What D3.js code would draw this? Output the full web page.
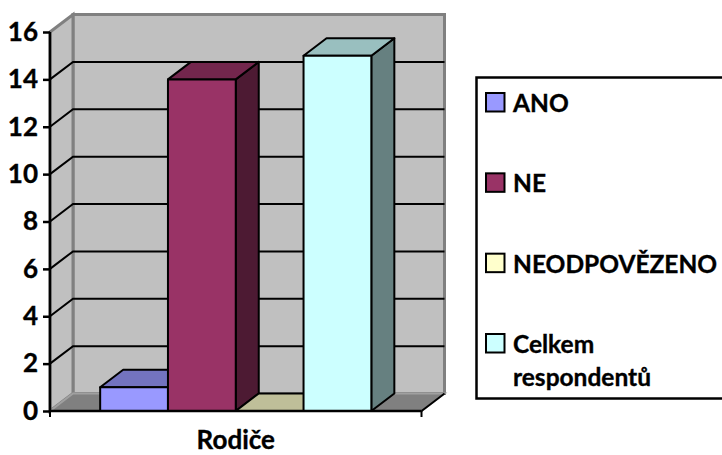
<!DOCTYPE html>
<html>
<head>
<meta charset="utf-8">
<script src="https://cdn.jsdelivr.net/npm/d3@7"></script>
<style>
  html, body { margin: 0; padding: 0; background: white; overflow: hidden; }
  text { font-family: Lato, "Noto Sans", sans-serif; font-weight: bold; fill: #000; stroke: #000; stroke-width: 0.35px; }
</style>
</head>
<body>
<script>
// values
var categories = ["Rodiče"];
var seriesNames = ["ANO", "NE", "NEODPOVĚZENO", "Celkem respondentů"];
var seriesValues = [1, 14, 0, 15];
var seriesColors = ["#9999FF", "#993366", "#FFFFCC", "#CCFFFF"];
var yTicks = [0, 2, 4, 6, 8, 10, 12, 14, 16];
var legendLines = [["ANO"], ["NE"], ["NEODPOVĚZENO"], ["Celkem", "respondentů"]];

var width = 722, height = 455;

// the fake 3d depth of the chart
var depthX = 23, depthY = -17.5;

var svg = d3.select("body").append("svg")
    .attr("width", width)
    .attr("height", height)
    .style("display", "block")
    .style("background-color", "white");

var y = d3.scaleLinear().domain([0, 16]).range([411, 32]);
var x = d3.scaleBand().domain(categories).range([50, 421.5]);
var xSeries = d3.scaleBand().domain(seriesNames)
    .range([x(categories[0]), x(categories[0]) + x.bandwidth()])
    .paddingOuter(0.74).paddingInner(0);

var line = d3.line();
var back = function(p) { return [p[0] + depthX, p[1] + depthY]; };

var x0 = x.range()[0], x1 = x.range()[1], yBottom = y(0), yTop = y(16);

// walls and floor
var walls = svg.append("g").attr("class", "walls");
walls.append("path")
    .attr("d", line([back([x0, yTop]), back([x1, yTop]), back([x1, yBottom]), back([x0, yBottom])]) + "Z")
    .attr("fill", "#C0C0C0").attr("stroke", "#808080").attr("stroke-width", 3);
walls.append("path")
    .attr("d", line([[x0, yTop], back([x0, yTop]), back([x0, yBottom]), [x0, yBottom]]) + "Z")
    .attr("fill", "#C0C0C0").attr("stroke", "#808080").attr("stroke-width", 3);
walls.append("path")
    .attr("d", line([[x0, yBottom], back([x0, yBottom]), back([x1, yBottom]), [x1, yBottom]]) + "Z")
    .attr("fill", "#808080").attr("stroke", "#A0A0A0").attr("stroke-width", 2);

// gridlines run along the side wall and then the back wall
svg.append("g").attr("class", "grid")
    .selectAll("path")
    .data(yTicks.filter(function(d) { return d > 0 && d < 16; }))
    .enter().append("path")
    .attr("d", function(d) {
        return line([[x0, y(d)], back([x0, y(d)]), back([x1, y(d)])]);
    })
    .attr("fill", "none").attr("stroke", "#000").attr("stroke-width", 2);

// black right edge of the floor
svg.append("path")
    .attr("d", line([[x1, yBottom], back([x1, yBottom])]))
    .attr("stroke", "#000").attr("stroke-width", 2);

// each bar is a front, a top and a side face
var bars = svg.append("g").attr("class", "bars")
    .selectAll("g")
    .data(seriesNames.map(function(name, i) {
        return { name: name, value: seriesValues[i], color: seriesColors[i] };
    }))
    .enter().append("g");

function barFace(sel, points, shade) {
    sel.append("path")
        .attr("d", function(d) { return line(points(d)) + "Z"; })
        .attr("fill", function(d) { return shade(d.color); })
        .attr("stroke", "#000").attr("stroke-width", 2)
        .attr("stroke-linejoin", "round");
}
function darken(k) {
    return function(c) {
        var rgb = d3.rgb(c);
        return d3.rgb(rgb.r * k, rgb.g * k, rgb.b * k).formatHex();
    };
}
var left = function(d) { return xSeries(d.name); };
var right = function(d) { return xSeries(d.name) + xSeries.bandwidth(); };

barFace(bars, function(d) {
    return [[right(d), y(d.value)], back([right(d), y(d.value)]), back([right(d), y(0)]), [right(d), y(0)]];
}, darken(0.5));
barFace(bars, function(d) {
    return [[left(d), y(d.value)], back([left(d), y(d.value)]), back([right(d), y(d.value)]), [right(d), y(d.value)]];
}, darken(0.75));
barFace(bars, function(d) {
    return [[left(d), y(d.value)], [right(d), y(d.value)], [right(d), y(0)], [left(d), y(0)]];
}, function(c) { return c; });

// axes
var yAxis = svg.append("g")
    .attr("transform", "translate(" + x0 + ",0)")
    .call(d3.axisLeft(y).tickValues(yTicks).tickSize(7).tickPadding(5));
yAxis.selectAll("text").style("font-size", "26px");

var xAxis = svg.append("g")
    .attr("transform", "translate(0," + yBottom + ")")
    .call(d3.axisBottom(x).tickSize(0).tickPadding(20));
xAxis.selectAll("text").style("font-size", "26px");

svg.selectAll(".domain").remove();
svg.append("path").attr("d", line([[x0, yBottom], [x0, yTop]])).attr("stroke", "#000").attr("stroke-width", 2.5);
svg.append("path").attr("d", line([[x0, yBottom], [x1, yBottom]])).attr("stroke", "#000").attr("stroke-width", 2.5);
svg.selectAll(".tick line").attr("stroke-width", 2.5).attr("stroke", "#000");
svg.append("path").attr("d", line([[x0, yBottom], [x0, yBottom + 6]])).attr("stroke", "#000").attr("stroke-width", 2);
svg.append("path").attr("d", line([[x1, yBottom], [x1, yBottom + 6]])).attr("stroke", "#000").attr("stroke-width", 2);

// legend
var legend = svg.append("g").attr("class", "legend");
legend.append("rect")
    .attr("x", 476.5).attr("y", 77.5)
    .attr("width", 260).attr("height", 321)
    .attr("fill", "white").attr("stroke", "#000").attr("stroke-width", 2.5);

var legendY = d3.scalePoint().domain(seriesNames).range([102, 343]);
var legendItem = legend.selectAll("g.item")
    .data(seriesNames)
    .enter().append("g").attr("class", "item")
    .attr("transform", function(d) { return "translate(0," + legendY(d) + ")"; });
legendItem.append("rect")
    .attr("x", 486).attr("y", -9)
    .attr("width", 18.5).attr("height", 18.5)
    .attr("fill", function(d, i) { return seriesColors[i]; })
    .attr("stroke", "#000").attr("stroke-width", 2);
legendItem.append("text")
    .attr("x", 513)
    .style("font-size", "24.5px")
    .selectAll("tspan")
    .data(function(d, i) { return legendLines[i]; })
    .enter().append("tspan")
    .attr("x", 513)
    .attr("y", function(d, i) { return 10 + i * 33; })
    .text(function(d) { return d; });
</script>
</body>
</html>
